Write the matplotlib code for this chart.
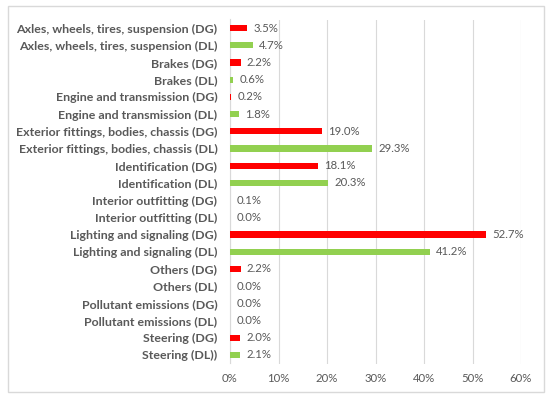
import matplotlib.pyplot as plt
from matplotlib.patches import Rectangle
from matplotlib.ticker import FuncFormatter

categories = [
    "Axles, wheels, tires, suspension (DG)",
    "Axles, wheels, tires, suspension (DL)",
    "Brakes (DG)",
    "Brakes (DL)",
    "Engine and transmission (DG)",
    "Engine and transmission (DL)",
    "Exterior fittings, bodies, chassis (DG)",
    "Exterior fittings, bodies, chassis (DL)",
    "Identification (DG)",
    "Identification (DL)",
    "Interior outfitting (DG)",
    "Interior outfitting (DL)",
    "Lighting and signaling (DG)",
    "Lighting and signaling (DL)",
    "Others (DG)",
    "Others (DL)",
    "Pollutant emissions (DG)",
    "Pollutant emissions (DL)",
    "Steering (DG)",
    "Steering (DL))",
]
values = [3.5, 4.7, 2.2, 0.6, 0.2, 1.8, 19.0, 29.3, 18.1, 20.3,
          0.1, 0.0, 52.7, 41.2, 2.2, 0.0, 0.0, 0.0, 2.0, 2.1]
colors = ["#FF0000" if c.endswith("(DG)") else "#92D050" for c in categories]

fig = plt.figure(figsize=(5.5, 3.98), dpi=100)
fig.patches.append(Rectangle((8 / 550, 6 / 398), 536 / 550, 386 / 398,
                             transform=fig.transFigure, fill=False,
                             edgecolor="#D9D9D9", linewidth=1))
ax = fig.add_axes([230 / 550, 1 - 363.5 / 398, 291 / 550, 344 / 398])

y = list(range(len(categories)))
ax.barh(y, [v / 100 for v in values], height=0.36, color=colors, zorder=3)
for yi, v in zip(y, values):
    ax.text(v / 100 + 0.013, yi, f"{v:.1f}%", va="center", ha="left",
            fontsize=8.2, color="#595959", family="Lato")

ax.set_xlim(0, 0.6)
ax.set_ylim(len(categories) - 0.5, -0.5)
ax.set_yticks(y)
ax.set_yticklabels(categories, fontsize=8.9, fontweight="bold", color="#595959",
                   family="Lato")
ax.set_xticks([0, 0.1, 0.2, 0.3, 0.4, 0.5, 0.6])
ax.xaxis.set_major_formatter(FuncFormatter(lambda x, p: f"{x * 100:.0f}%"))
for lab in ax.get_xticklabels():
    lab.set_fontsize(8.2)
    lab.set_color("#595959")
    lab.set_family("Lato")
ax.tick_params(length=0, pad=7)
ax.tick_params(axis="y", pad=9)
ax.grid(axis="x", color="#D9D9D9", linewidth=0.8, zorder=0)
for s in ["top", "right", "bottom"]:
    ax.spines[s].set_visible(False)
ax.spines["left"].set_color("#D9D9D9")
ax.spines["left"].set_linewidth(0.8)

fig.savefig("out.png", dpi=100)
